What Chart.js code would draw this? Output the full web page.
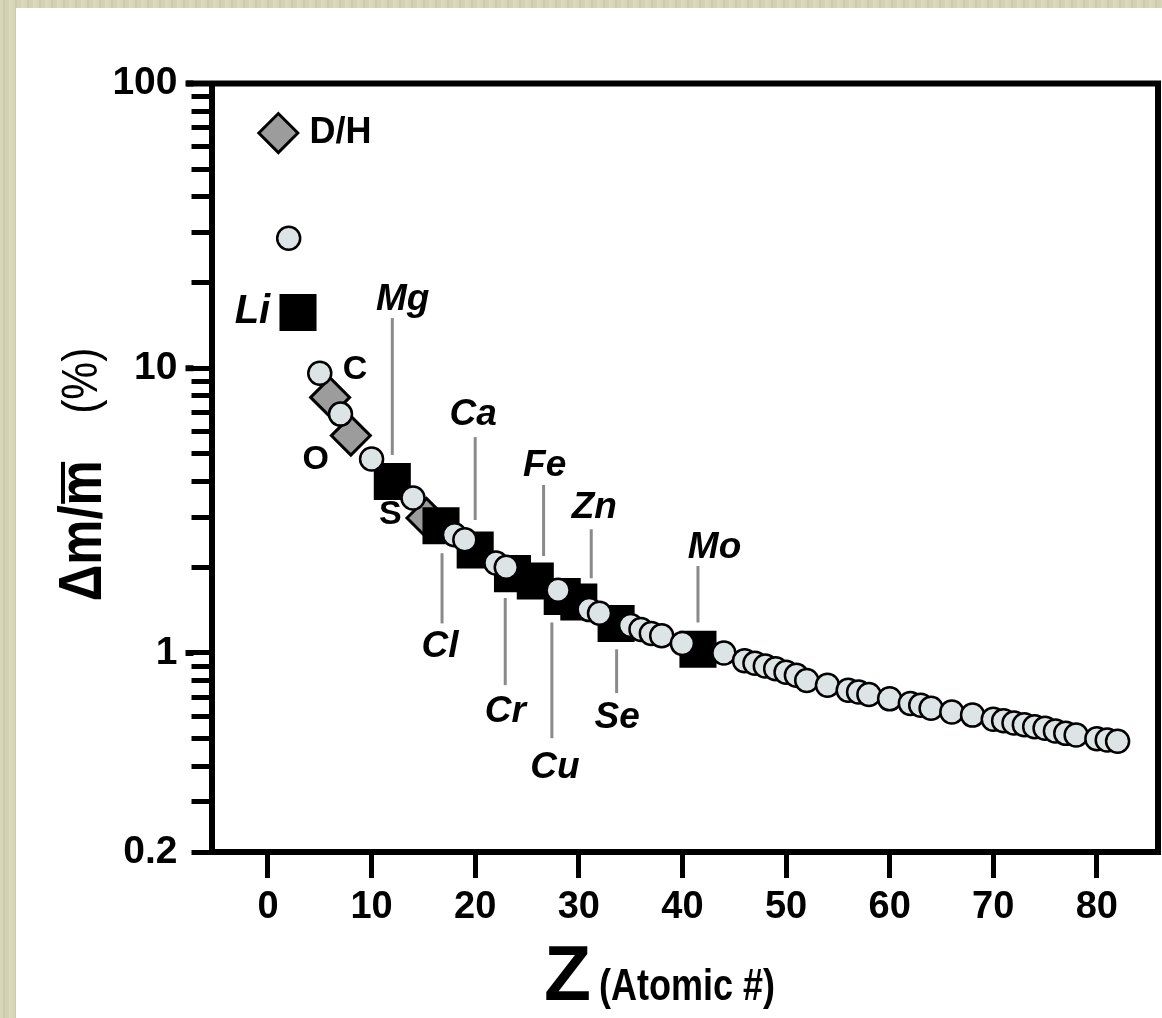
<!DOCTYPE html>
<html>
<head>
<meta charset="utf-8">
<script src="https://cdn.jsdelivr.net/npm/chart.js@4.4.1/dist/chart.umd.min.js"></script>
<style>
  html, body { margin: 0; padding: 0; }
  body {
    width: 1162px; height: 1018px; position: relative; overflow: hidden;
    background: repeating-linear-gradient(90deg, #d7d6b9 0 3px, #cdcbab 3px 5px, #d3d2b3 5px 9px, #dad9bd 9px 12px);
  }
  #panel { position: absolute; left: 16px; top: 8px; right: 0; bottom: 0; background: #fff; }
  #massChart { position: absolute; left: 0; top: 0; }
</style>
</head>
<body>
<div id="panel"></div>
<canvas id="massChart" width="1162" height="1018"></canvas>
<script>
// data: relative isotope mass difference vs atomic number
const circleZ = [2, 5, 7, 10, 14, 18, 19, 22, 23, 28, 31, 32, 35, 36, 37, 38, 40,
  44, 46, 47, 48, 49, 50, 51, 52, 54, 56, 57, 58, 60, 62, 63, 64, 66, 68,
  70, 71, 72, 73, 74, 75, 76, 77, 78, 80, 81, 82];
const circleVal = [28.6, 9.6, 6.9, 4.8, 3.5, 2.6, 2.5, 2.07, 2.0, 1.66, 1.42, 1.38, 1.25, 1.21, 1.17, 1.15, 1.08,
  1.0, 0.94, 0.92, 0.9, 0.88, 0.855, 0.835, 0.8, 0.77, 0.74, 0.73, 0.715, 0.69, 0.665, 0.655, 0.64, 0.62, 0.605,
  0.585, 0.578, 0.568, 0.56, 0.551, 0.544, 0.532, 0.522, 0.515, 0.5, 0.495, 0.49];

// black squares (Li, Mg, Cl, Ca, Cr, Fe, Cu, Zn, Se, Mo)
const squareZ = [2.9, 12, 16.7, 20, 23.6, 25.8, 28.4, 30, 33.6, 41.5];
const squareVal = [15.7, 4.0, 2.8, 2.3, 1.9, 1.79, 1.58, 1.51, 1.27, 1.03];

// grey diamonds (H, C, O, S)
const diamondZ = [1, 6, 8, 15.3];
const diamondVal = [67, 7.9, 5.8, 2.98];

// axis ticks
const xTicks = [0, 10, 20, 30, 40, 50, 60, 70, 80];
const yTicks = [0.2, 0.3, 0.4, 0.5, 0.6, 0.7, 0.8, 0.9, 1, 2, 3, 4, 5, 6, 7, 8, 9,
  10, 20, 30, 40, 50, 60, 70, 80, 90, 100];
const yLabels = { 0.2: '0.2', 1: '1', 10: '10', 100: '100' };
const yMajor = [1, 10, 100];

// element labels (anchor in data coords)
const labelText = ['D/H', 'Li', 'C', 'O', 'S', 'Mg', 'Ca', 'Fe', 'Zn', 'Mo', 'Cl', 'Cr', 'Cu', 'Se'];
const labelZ = [7.0, -1.5, 8.4, 4.6, 11.8, 13.0, 19.8, 26.7, 31.5, 43.1, 16.6, 22.9, 27.7, 33.7];
const labelVal = [67, 15.7, 9.86, 4.76, 3.05, 17.4, 6.86, 4.53, 3.23, 2.34, 1.05, 0.62, 0.394, 0.59];
const labelItalic = [false, true, false, false, false, true, true, true, true, true, true, true, true, true];

// grey leader lines from label to marker
const leaderZ = [12, 20, 26.6, 31.2, 41.5, 16.8, 22.9, 27.4, 33.65];
const leaderTop = [15.0, 5.73, 3.89, 2.72, 2.02, 2.24, 1.56, 1.28, 1.03];
const leaderBottom = [4.96, 2.93, 2.19, 1.83, 1.28, 1.27, 0.771, 0.502, 0.723];

const FONT = '"Liberation Sans", Arial, Helvetica, sans-serif';

function pts(zs, vals) {
  return zs.map((z, i) => ({ x: z, y: vals[i] }));
}

// frame, axis titles, labels
const extras = {
  id: 'extras',
  beforeDatasetsDraw(chart) {
    const c = chart.ctx, a = chart.chartArea, y = chart.scales.y;
    c.save();
    c.strokeStyle = '#000';
    c.lineWidth = 6;
    c.beginPath();
    c.moveTo(a.left - 25, a.top);
    c.lineTo(a.right + 3, a.top);
    c.moveTo(a.right, a.top - 3);
    c.lineTo(a.right, a.bottom + 3);
    c.stroke();
    // longer decade ticks
    yMajor.forEach(v => {
      const py = y.getPixelForValue(v);
      c.beginPath();
      c.moveTo(a.left - 26, py);
      c.lineTo(a.left - 18, py);
      c.stroke();
    });
    c.restore();
  },
  afterDatasetsDraw(chart) {
    const c = chart.ctx, a = chart.chartArea;
    const sx = chart.scales.x, sy = chart.scales.y;
    c.save();
    c.strokeStyle = '#8a8a8a';
    c.lineWidth = 3;
    leaderZ.forEach((z, i) => {
      const px = sx.getPixelForValue(z);
      c.beginPath();
      c.moveTo(px, sy.getPixelForValue(leaderTop[i]));
      c.lineTo(px, sy.getPixelForValue(leaderBottom[i]));
      c.stroke();
    });
    c.fillStyle = '#000';
    c.textAlign = 'center';
    c.textBaseline = 'middle';
    labelText.forEach((t, i) => {
      let size = labelItalic[i] ? 37 : 34;
      if (t === 'Li') size = 40;
      if (t === 'D/H') size = 36;
      c.font = (labelItalic[i] ? 'italic ' : '') + 'bold ' + size + 'px ' + FONT;
      c.fillText(t, sx.getPixelForValue(labelZ[i]), sy.getPixelForValue(labelVal[i]));
    });

    // y axis title: Δm/m̄   (%)
    const cy = (a.top + a.bottom) / 2;
    c.save();
    c.translate(101, cy + 63);
    c.rotate(-Math.PI / 2);
    c.scale(0.82, 1);
    c.font = 'bold 62px ' + FONT;
    c.textAlign = 'left';
    c.textBaseline = 'alphabetic';
    const full = c.measureText('Δm/m').width;
    const head = c.measureText('Δm/').width;
    const mw = c.measureText('m').width;
    c.fillText('Δm/m', -full / 2, 0);
    c.fillRect(-full / 2 + head + 2, -40, mw - 4, 4);
    c.restore();
    c.save();
    c.translate(101, cy - 87);
    c.rotate(-Math.PI / 2);
    c.scale(0.85, 1);
    c.font = '50px ' + FONT;
    c.textAlign = 'center';
    c.textBaseline = 'alphabetic';
    c.fillText('(%)', 0, -4);
    c.restore();

    // x axis title: Z (Atomic #)
    c.textAlign = 'left';
    c.textBaseline = 'alphabetic';
    c.font = 'bold 77px ' + FONT;
    c.fillText('Z', 544, 1000);
    c.save();
    c.translate(599, 1000);
    c.scale(0.8, 1);
    c.font = 'bold 45px ' + FONT;
    c.fillText('(Atomic #)', 0, 0);
    c.restore();
    c.restore();
  }
};

const ctx = document.getElementById('massChart').getContext('2d');
const massChart = new Chart(ctx, {
  type: 'scatter',
  data: {
    datasets: [
      {
        label: 'other',
        data: pts(circleZ, circleVal),
        pointStyle: 'circle',
        pointRadius: 11.5,
        pointBorderWidth: 2.5,
        pointBackgroundColor: '#dde4e6',
        pointBorderColor: '#000'
      },
      {
        label: 'bio',
        data: pts(squareZ, squareVal),
        pointStyle: 'rect',
        pointRadius: 26.2,
        pointBorderWidth: 0,
        pointBackgroundColor: '#000',
        pointBorderColor: '#000'
      },
      {
        label: 'light',
        data: pts(diamondZ, diamondVal),
        pointStyle: 'rectRot',
        pointRadius: 19.5,
        pointBorderWidth: 3,
        pointBackgroundColor: '#9c9c9c',
        pointBorderColor: '#000'
      }
    ]
  },
  options: {
    responsive: false,
    animation: false,
    devicePixelRatio: 1,
    layout: { autoPadding: false, padding: { top: 83.5, right: 4, left: 0, bottom: 0 } },
    plugins: { legend: { display: false }, tooltip: { enabled: false } },
    scales: {
      x: {
        type: 'linear',
        min: -5.45,
        max: 85.9,
        afterBuildTicks: s => { s.ticks = xTicks.map(v => ({ value: v })); },
        afterFit: s => { s.height = 166; s.paddingLeft = 0; s.paddingRight = 0; },
        grid: { drawOnChartArea: false, drawTicks: true, tickLength: 26, tickWidth: 5, tickColor: '#000' },
        border: { display: true, width: 6, color: '#000' },
        ticks: { color: '#000', padding: 7, maxRotation: 0, autoSkip: false,
          font: { family: FONT, size: 38, weight: 'bold' } }
      },
      y: {
        type: 'logarithmic',
        min: 0.2,
        max: 100,
        afterBuildTicks: s => { s.ticks = yTicks.map(v => ({ value: v })); },
        afterFit: s => { s.width = 211.5; s.paddingTop = 0; s.paddingBottom = 0; },
        grid: { drawOnChartArea: false, drawTicks: true, tickLength: 20, tickWidth: 5, tickColor: '#000' },
        border: { display: true, width: 6, color: '#000' },
        ticks: { color: '#000', padding: 14, autoSkip: false,
          callback: v => yLabels[v] ?? '',
          font: { family: FONT, size: 39, weight: 'bold' } }
      }
    }
  },
  plugins: [extras]
});
</script>
</body>
</html>
